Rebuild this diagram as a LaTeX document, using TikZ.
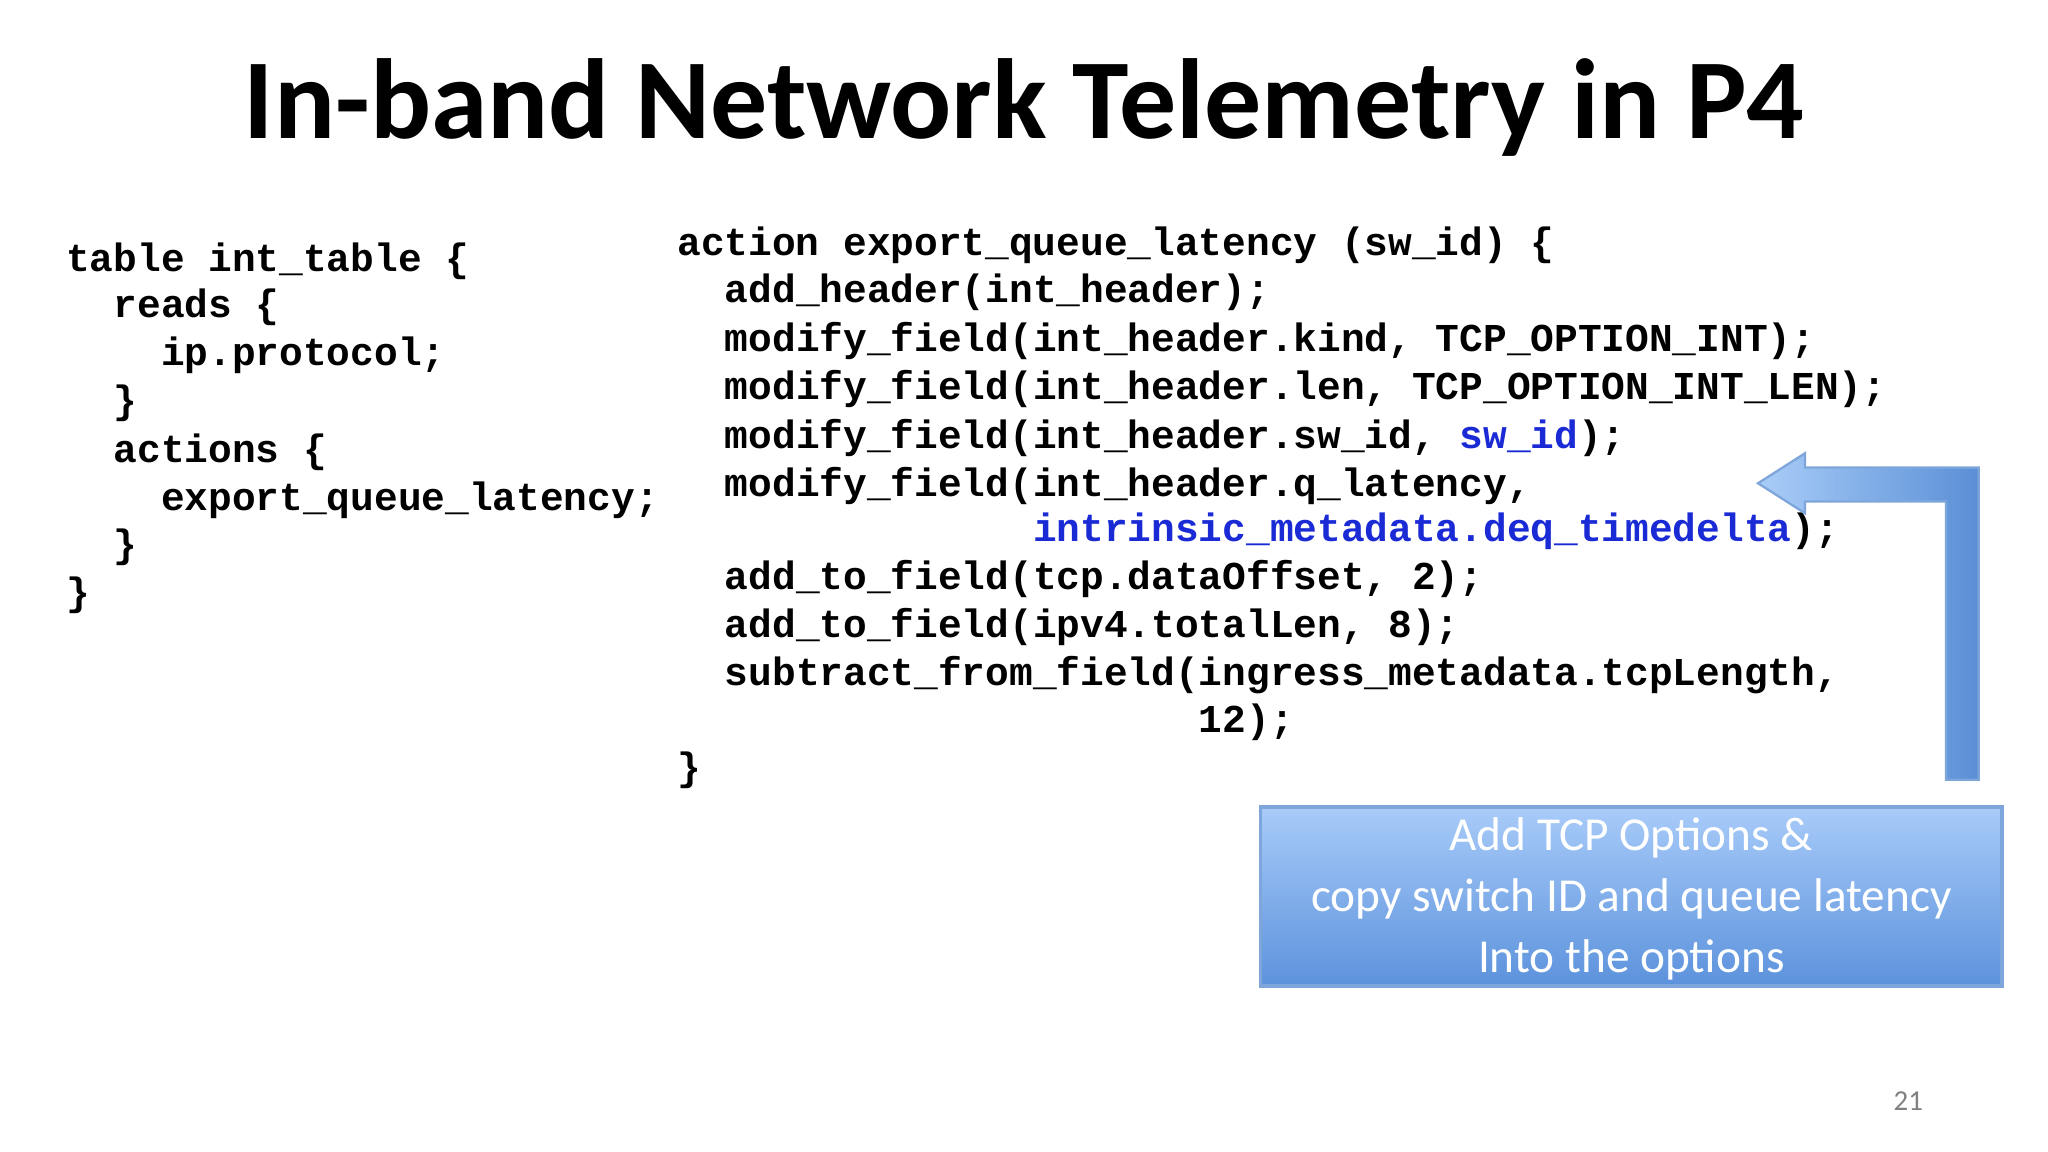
\documentclass[tikz,border=0pt]{standalone}
\usepackage{fontspec}
\setmainfont{Carlito}
\newfontfamily\codefont{Liberation Mono}
\definecolor{boxtop}{HTML}{A8CBF9}
\definecolor{boxbot}{HTML}{5C92DC}
\definecolor{boxline}{HTML}{7FA6DA}
\definecolor{arrtop}{HTML}{A9CDF8}
\definecolor{arrbot}{HTML}{5A8FD6}
\definecolor{codeblue}{HTML}{1A2BD6}
\begin{document}
\begin{tikzpicture}[x=0.01cm,y=-0.01cm,
  code/.style={anchor=west,inner sep=0pt,font=\codefont\bfseries\fontsize{8.6pt}{10pt}\selectfont}]
\useasboundingbox (0,0) rectangle (1568,882);
\fill[white] (0,0) rectangle (1568,882);
\node[font=\bfseries\fontsize{24.8pt}{30pt}\selectfont] (title) at (784,82) {In-band Network Telemetry in P4};
% left code
\node[code] (l1) at (50,200) {table int\_table \{};
\node[code] (l2) at (50,235) {~~reads \{};
\node[code] (l3) at (50,272) {~~~~ip.protocol;};
\node[code] (l4) at (50,309) {~~\}};
\node[code] (l5) at (50,346) {~~actions \{};
\node[code] (l6) at (50,383) {~~~~export\_queue\_latency;};
\node[code] (l7) at (50,419) {~~\}};
\node[code] (l8) at (50,456) {\}};
% right code
\node[code] (r1) at (518,188) {action export\_queue\_latency (sw\_id) \{};
\node[code] (r2) at (518,224) {~~add\_header(int\_header);};
\node[code] (r3) at (518,261) {~~modify\_field(int\_header.kind, TCP\_OPTION\_INT);};
\node[code] (r4) at (518,298) {~~modify\_field(int\_header.len, TCP\_OPTION\_INT\_LEN);};
\node[code] (r5) at (518,335) {~~modify\_field(int\_header.sw\_id, \textcolor{codeblue}{sw\_id});};
\node[code] (r6) at (518,372) {~~modify\_field(int\_header.q\_latency,};
\node[code] (r7) at (518,407) {~~~~~~~~~~~~~~~\textcolor{codeblue}{intrinsic\_metadata.deq\_timedelta});};
\node[code] (r8) at (518,443) {~~add\_to\_field(tcp.dataOffset, 2);};
\node[code] (r9) at (518,480) {~~add\_to\_field(ipv4.totalLen, 8);};
\node[code] (r10) at (518,517) {~~subtract\_from\_field(ingress\_metadata.tcpLength,};
\node[code] (r11) at (518,553) {~~~~~~~~~~~~~~~~~~~~~~12);};
\node[code] (r12) at (518,590) {\}};
% arrow
\shade[left color=arrtop,right color=arrbot,draw=boxline,line width=0.5pt]
  (1515,358) -- (1515,597) -- (1490,597) -- (1490,384) -- (1382,384) -- (1382,393)
  -- (1346,370) -- (1382,347) -- (1382,358) -- cycle;
% box
\shade[top color=boxtop,bottom color=boxbot,draw=boxline,line width=0.8pt]
  (965,618) rectangle (1533,755);
\coordinate (boxc) at (1249,688);
\node[text=white,font=\fontsize{10.3pt}{13.3pt}\selectfont,align=center] (boxtext) at (boxc)
  {Add TCP Options \&\\copy switch ID and queue latency\\Into the options};
\node[text=gray,font=\fontsize{6.3pt}{7pt}\selectfont] (pg) at (1461,843) {21};
\end{tikzpicture}
\end{document}
